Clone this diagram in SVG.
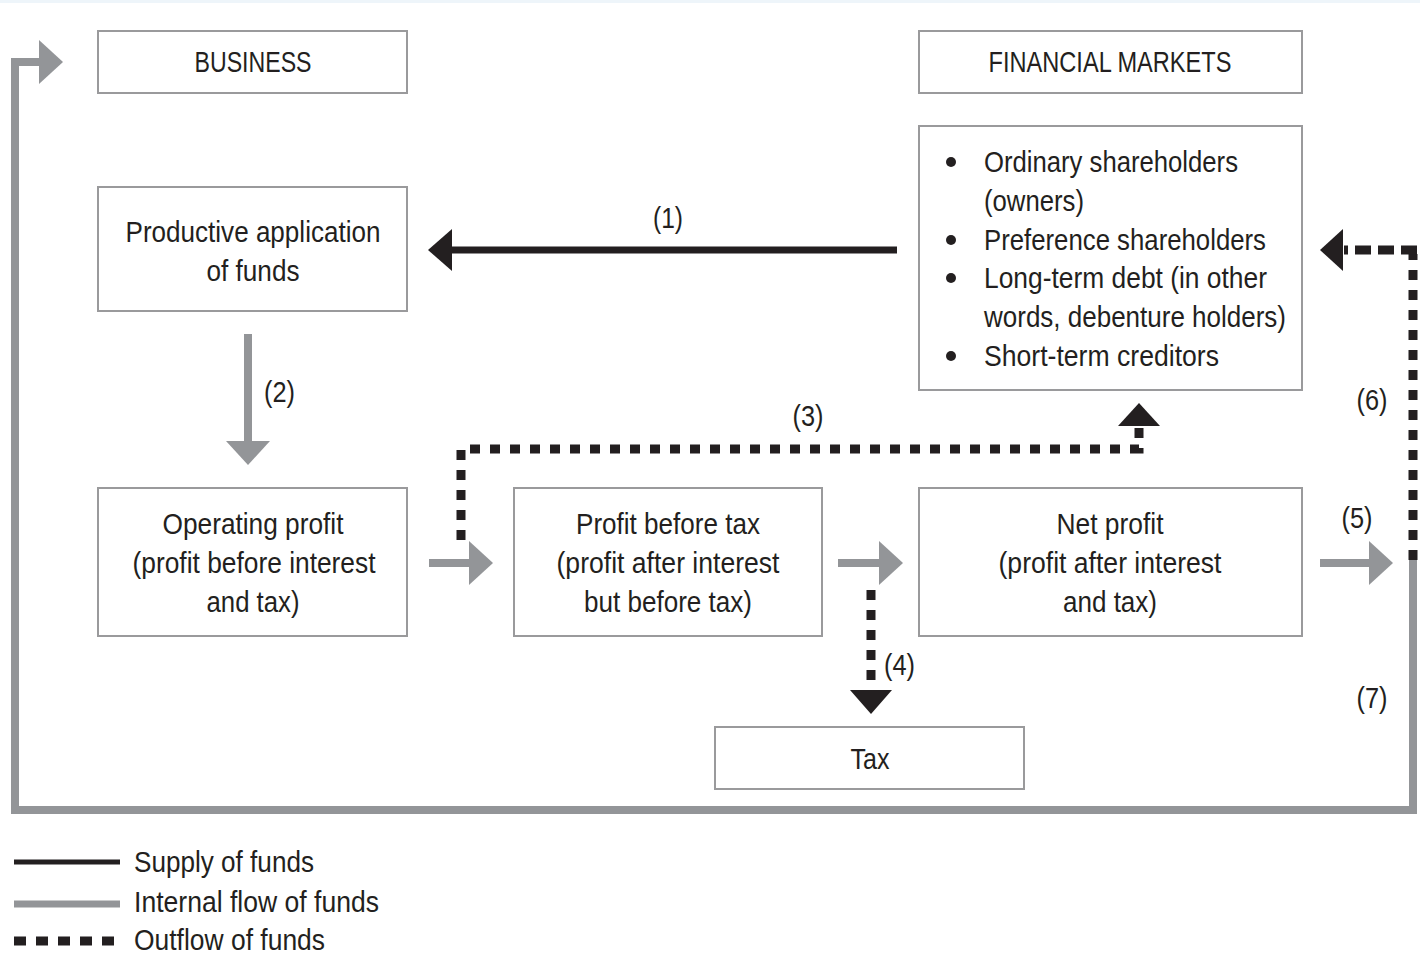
<svg xmlns="http://www.w3.org/2000/svg" width="1420" height="955" viewBox="0 0 1420 955">
  <style>
    text { font-family: "Liberation Sans", Arial, sans-serif; font-size: 29px; fill: #231f20; }
    .c { text-anchor: middle; }
    .box { fill: #ffffff; stroke: #9a9a9c; stroke-width: 2; }
    .supply { fill: none; stroke: #231f20; stroke-width: 7; }
    .internal { fill: none; stroke: #939598; stroke-width: 8; }
    .outflow { fill: none; stroke: #231f20; stroke-width: 9; stroke-dasharray: 10 10; }
    .headK { fill: #231f20; }
    .headG { fill: #939598; }
  </style>
  <rect x="0" y="0" width="1420" height="955" fill="#ffffff"/>
  <rect x="0" y="0" width="1420" height="3" fill="#eef5fa"/>

  <!-- connectors -->
  <g id="connectors">
    <!-- (1) supply of funds -->
    <line class="supply" x1="897" y1="250" x2="448" y2="250"/>
    <polygon class="headK" points="428,250 452,229 452,271"/>
    <text class="c" x="668" y="228" textLength="30" lengthAdjust="spacingAndGlyphs">(1)</text>

    <!-- (2) internal -->
    <line class="internal" x1="248" y1="334" x2="248" y2="442"/>
    <polygon class="headG" points="248,465 226,441 270,441"/>
    <text x="264" y="402" textLength="31" lengthAdjust="spacingAndGlyphs">(2)</text>

    <!-- operating profit -> profit before tax -->
    <line class="internal" x1="429" y1="563" x2="470" y2="563"/>
    <polygon class="headG" points="493,563 469,541 469,585"/>

    <!-- profit before tax -> net profit -->
    <line class="internal" x1="838" y1="563" x2="880" y2="563"/>
    <polygon class="headG" points="903,563 879,541 879,585"/>

    <!-- (5) -->
    <line class="internal" x1="1320" y1="563" x2="1370" y2="563"/>
    <polygon class="headG" points="1393,563 1369,541 1369,585"/>
    <text class="c" x="1357" y="528" textLength="31" lengthAdjust="spacingAndGlyphs">(5)</text>

    <!-- (7) internal return to business -->
    <polyline class="internal" points="1413,560 1413,810 15,810 15,62 42,62"/>
    <polygon class="headG" points="63,62 39,40 39,84"/>
    <text class="c" x="1372" y="708" textLength="31" lengthAdjust="spacingAndGlyphs">(7)</text>

    <!-- (3) outflow to financial markets -->
    <polyline class="outflow" points="461,540 461,449 1139,449 1139,428"/>
    <polygon class="headK" points="1139,403 1118,426 1160,426"/>
    <text class="c" x="808" y="426" textLength="31" lengthAdjust="spacingAndGlyphs">(3)</text>

    <!-- (4) outflow to tax -->
    <line class="outflow" x1="871" y1="590" x2="871" y2="690"/>
    <polygon class="headK" points="871,714 850,690 892,690"/>
    <text x="884" y="675" textLength="31" lengthAdjust="spacingAndGlyphs">(4)</text>

    <!-- (6) outflow to financial markets -->
    <line class="outflow" x1="1413" y1="560" x2="1413" y2="254"/>
    <line class="outflow" x1="1417" y1="250" x2="1344" y2="250" style="stroke-dasharray: 16 7"/>
    <polygon class="headK" points="1320,250 1343,229 1343,271"/>
    <text class="c" x="1372" y="410" textLength="31" lengthAdjust="spacingAndGlyphs">(6)</text>
  </g>

  <!-- nodes -->
  <g id="business">
    <rect class="box" x="98" y="31" width="309" height="62"/>
    <text class="c" x="253" y="72" textLength="117" lengthAdjust="spacingAndGlyphs">BUSINESS</text>
  </g>
  <g id="financial-markets">
    <rect class="box" x="919" y="31" width="383" height="62"/>
    <text class="c" x="1110" y="72" textLength="243" lengthAdjust="spacingAndGlyphs">FINANCIAL MARKETS</text>
  </g>
  <g id="productive-application">
    <rect class="box" x="98" y="187" width="309" height="124"/>
    <text class="c" x="253" y="242" textLength="255" lengthAdjust="spacingAndGlyphs">Productive application</text>
    <text class="c" x="253" y="281" textLength="93" lengthAdjust="spacingAndGlyphs">of funds</text>
  </g>
  <g id="providers">
    <rect class="box" x="919" y="126" width="383" height="264"/>
    <circle class="headK" cx="951" cy="162" r="5"/>
    <circle class="headK" cx="951" cy="240" r="5"/>
    <circle class="headK" cx="951" cy="278" r="5"/>
    <circle class="headK" cx="951" cy="356" r="5"/>
    <text x="984" y="172" textLength="254" lengthAdjust="spacingAndGlyphs">Ordinary shareholders</text>
    <text x="984" y="211" textLength="100" lengthAdjust="spacingAndGlyphs">(owners)</text>
    <text x="984" y="250" textLength="282" lengthAdjust="spacingAndGlyphs">Preference shareholders</text>
    <text x="984" y="288" textLength="283" lengthAdjust="spacingAndGlyphs">Long-term debt (in other</text>
    <text x="984" y="327" textLength="302" lengthAdjust="spacingAndGlyphs">words, debenture holders)</text>
    <text x="984" y="366" textLength="235" lengthAdjust="spacingAndGlyphs">Short-term creditors</text>
  </g>
  <g id="operating-profit">
    <rect class="box" x="98" y="488" width="309" height="148"/>
    <text class="c" x="253" y="534" textLength="181" lengthAdjust="spacingAndGlyphs">Operating profit</text>
    <text class="c" x="254" y="573" textLength="243" lengthAdjust="spacingAndGlyphs">(profit before interest</text>
    <text class="c" x="253" y="612" textLength="93" lengthAdjust="spacingAndGlyphs">and tax)</text>
  </g>
  <g id="profit-before-tax">
    <rect class="box" x="514" y="488" width="308" height="148"/>
    <text class="c" x="668" y="534" textLength="184" lengthAdjust="spacingAndGlyphs">Profit before tax</text>
    <text class="c" x="668" y="573" textLength="223" lengthAdjust="spacingAndGlyphs">(profit after interest</text>
    <text class="c" x="668" y="612" textLength="168" lengthAdjust="spacingAndGlyphs">but before tax)</text>
  </g>
  <g id="net-profit">
    <rect class="box" x="919" y="488" width="383" height="148"/>
    <text class="c" x="1110" y="534" textLength="107" lengthAdjust="spacingAndGlyphs">Net profit</text>
    <text class="c" x="1110" y="573" textLength="223" lengthAdjust="spacingAndGlyphs">(profit after interest</text>
    <text class="c" x="1110" y="612" textLength="94" lengthAdjust="spacingAndGlyphs">and tax)</text>
  </g>
  <g id="tax">
    <rect class="box" x="715" y="727" width="309" height="62"/>
    <text class="c" x="870" y="769" textLength="39" lengthAdjust="spacingAndGlyphs">Tax</text>
  </g>

  <!-- key -->
  <g id="legend">
    <line x1="14" y1="862" x2="120" y2="862" stroke="#231f20" stroke-width="5"/>
    <line x1="14" y1="904" x2="120" y2="904" stroke="#939598" stroke-width="7"/>
    <line x1="14" y1="941" x2="120" y2="941" stroke="#231f20" stroke-width="9" stroke-dasharray="12 10"/>
    <text x="134" y="872" textLength="180" lengthAdjust="spacingAndGlyphs">Supply of funds</text>
    <text x="134" y="912" textLength="245" lengthAdjust="spacingAndGlyphs">Internal flow of funds</text>
    <text x="134" y="950" textLength="191" lengthAdjust="spacingAndGlyphs">Outflow of funds</text>
  </g>
</svg>
